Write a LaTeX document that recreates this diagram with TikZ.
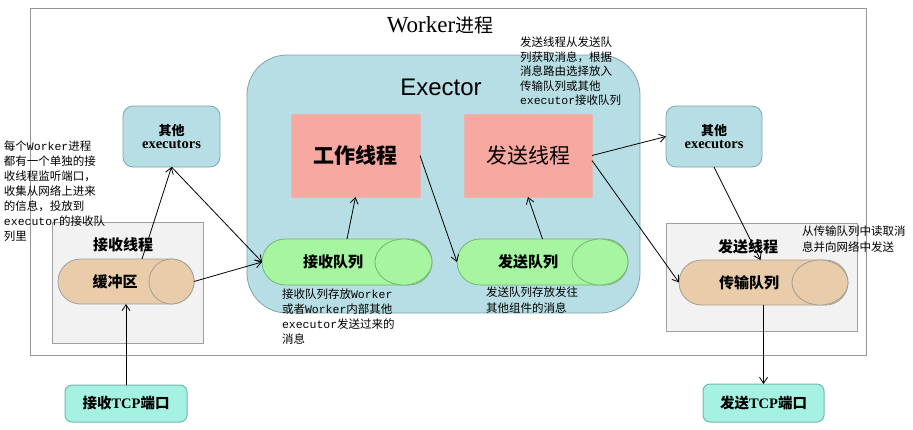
\documentclass[tikz,border=0pt]{standalone}
\usepackage{fontspec}
\setmainfont{Liberation Serif}
\newfontfamily\cjk{Noto Sans CJK SC}
\newfontfamily\arialf{Liberation Sans}
\newfontfamily\monof{Liberation Mono}
\usetikzlibrary{shapes.misc,shapes.geometric,arrows.meta}
\newcommand\zh[1]{{\cjk #1}}
\newcommand\la[1]{{\monof #1}}
\definecolor{exfill}{RGB}{183,222,228}
\definecolor{exline}{RGB}{125,165,175}
\definecolor{workfill}{RGB}{247,168,160}
\definecolor{workline}{RGB}{225,185,178}
\definecolor{greenfill}{RGB}{166,245,160}
\definecolor{greenline}{RGB}{120,180,120}
\definecolor{tanfill}{RGB}{233,205,170}
\definecolor{tanline}{RGB}{165,158,150}
\definecolor{grayfill}{RGB}{242,242,242}
\definecolor{grayline}{RGB}{160,160,160}
\definecolor{tcpfill}{RGB}{166,242,226}
\definecolor{tcpline}{RGB}{115,185,175}
\definecolor{outerline}{RGB}{150,150,150}
\begin{document}
\begin{tikzpicture}[x=1pt,y=-1pt,
  every node/.style={inner sep=0pt, outer sep=0pt},
  outerbox/.style={draw=outerline, line width=1pt, fill=white},
  exbox/.style={draw=exline, fill=exfill, line width=0.8pt, rounded corners=40pt},
  threadbox/.style={draw=workline, fill=workfill, line width=0.8pt},
  smallex/.style={draw=exline, fill=exfill, line width=0.8pt, rounded corners=10pt, align=center},
  graybox/.style={draw=grayline, fill=grayfill, line width=0.8pt},
  greenq/.style={rounded rectangle, draw=greenline, fill=greenfill, line width=0.8pt},
  greencap/.style={ellipse, draw=greenline, fill=greenfill, line width=0.8pt},
  tanq/.style={rounded rectangle, draw=tanline, fill=tanfill, line width=0.8pt},
  tancap/.style={ellipse, draw=tanline, fill=tanfill, line width=0.8pt},
  tcpbox/.style={draw=tcpline, fill=tcpfill, line width=1pt, rounded corners=7pt},
  qtext/.style={font=\cjk\bfseries\fontsize{15}{18}\selectfont},
  note/.style={anchor=north west, align=left, font=\fontsize{11.5}{15}\selectfont},
  arr/.style={-{Straight Barb[length=6pt,width=8pt]}, line width=0.8pt, black}
]
\useasboundingbox (0,0) rectangle (913,429);

% outer worker box
\node[outerbox, minimum width=836pt, minimum height=347pt] (worker) at (448,181.5) {};
\node (title) at (440,25) {{\fontsize{23}{24}\selectfont Worker}{\cjk\fontsize{19}{24}\selectfont 进程}};

% Exector
\node[exbox, minimum width=393pt, minimum height=258pt] (exector) at (443.5,184) {};
\node (extitle) at (441,87) {\arialf\fontsize{24}{28}\selectfont Exector};

\node[threadbox, minimum width=129pt, minimum height=83pt] (work) at (355.5,155.5)
  {\cjk\bfseries\fontsize{21}{24}\selectfont 工作线程};
\node[threadbox, minimum width=128pt, minimum height=83pt] (send) at (528,155.5)
  {\cjk\fontsize{21}{24}\selectfont 发送线程};

\node[greenq, minimum width=170pt, minimum height=46pt] (rq) at (347,262) {};
\node[greencap, minimum width=57pt, minimum height=46pt] (rqcap) at (403.5,262) {};
\node[qtext] (rqtext) at (333,262) {接收队列};

\node[greenq, minimum width=171pt, minimum height=46pt] (sq) at (542.5,262) {};
\node[greencap, minimum width=56pt, minimum height=46pt] (sqcap) at (600,262) {};
\node[qtext] (sqtext) at (528,262) {发送队列};

% other executors
\node[smallex, minimum width=97pt, minimum height=61pt] (exL) at (171.5,136.5)
  {{\cjk\bfseries\fontsize{13}{15}\selectfont 其他}\\[1pt]{\bfseries\fontsize{14.5}{15}\selectfont executors}};
\node[smallex, minimum width=96pt, minimum height=61pt] (exR) at (714,136.5)
  {{\cjk\bfseries\fontsize{13}{15}\selectfont 其他}\\[1pt]{\bfseries\fontsize{14.5}{15}\selectfont executors}};

% receive thread
\node[graybox, minimum width=151pt, minimum height=121pt] (rthread) at (127.5,282.5) {};
\node[qtext] (rthreadtext) at (123,245) {接收线程};
\node[tanq, minimum width=136pt, minimum height=45pt] (buf) at (126,281.5) {};
\node[tancap, minimum width=45pt, minimum height=45pt] (bufcap) at (171.5,281.5) {};
\node[qtext] (buftext) at (115,282) {缓冲区};

% send thread
\node[graybox, minimum width=191pt, minimum height=108pt] (sthread) at (761.5,277) {};
\node[qtext] (sthreadtext) at (748,247) {发送线程};
\node[tanq, minimum width=169pt, minimum height=45pt] (tq) at (763.5,282.5) {};
\node[tancap, minimum width=56pt, minimum height=45pt] (tqcap) at (820,282.5) {};
\node[qtext] (tqtext) at (749,283) {传输队列};

% TCP ports
\node[tcpbox, minimum width=122pt, minimum height=37pt] (tcpin) at (126,403.5)
  {\bfseries\fontsize{14.5}{17}\selectfont\zh{接收}TCP\zh{端口}};
\node[tcpbox, minimum width=121pt, minimum height=38pt] (tcpout) at (763.5,403)
  {\bfseries\fontsize{14.5}{17}\selectfont\zh{发送}TCP\zh{端口}};

% notes
\node[note] (noteL) at (4,141) {\zh{每个}\la{Worker}\zh{进程}\\
  \zh{都有一个单独的接}\\
  \zh{收线程监听端口，}\\
  \zh{收集从网络上进来}\\
  \zh{的信息，投放到}\\
  \la{executor}\zh{的接收队}\\
  \zh{列里}};
\node[note, font=\fontsize{11.5}{14.5}\selectfont] (noteT) at (520,37) {\zh{发送线程从发送队}\\
  \zh{列获取消息，根据}\\
  \zh{消息路由选择放入}\\
  \zh{传输队列或其他}\\
  \la{executor}\zh{接收队列}};
\node[note] (noteRQ) at (282,289) {\zh{接收队列存放}\la{Worker}\\
  \zh{或者}\la{Worker}\zh{内部其他}\\
  \la{executor}\zh{发送过来的}\\
  \zh{消息}};
\node[note, font=\fontsize{11.5}{16}\selectfont] (noteSQ) at (486,287) {\zh{发送队列存放发往}\\
  \zh{其他组件的消息}};
\node[note, font=\fontsize{11.5}{16}\selectfont] (noteR) at (802,226) {\zh{从传输队列中读取消}\\
  \zh{息并向网络中发送}};

% arrows
\draw[arr] (tcpin.north) -- (buf.south);
\draw[arr] ([xshift=16pt]buf.north) -- (exL.south);
\draw[arr] (buf.east) -- (rq.west);
\draw[arr] (exL.south) -- (rq.west);
\draw[arr] (rq.north) -- (work.south);
\draw[arr] (work.east) -- (sq.west);
\draw[arr] (sq.north) -- (send.south);
\draw[arr] (send.east) -- (exR.west);
\draw[arr] ([yshift=-5pt]send.east) -- (tq.west);
\draw[arr] (exR.south) -- ([xshift=-3pt]tq.north);
\draw[arr] (tq.south) -- (tcpout.north);
\end{tikzpicture}
\end{document}
